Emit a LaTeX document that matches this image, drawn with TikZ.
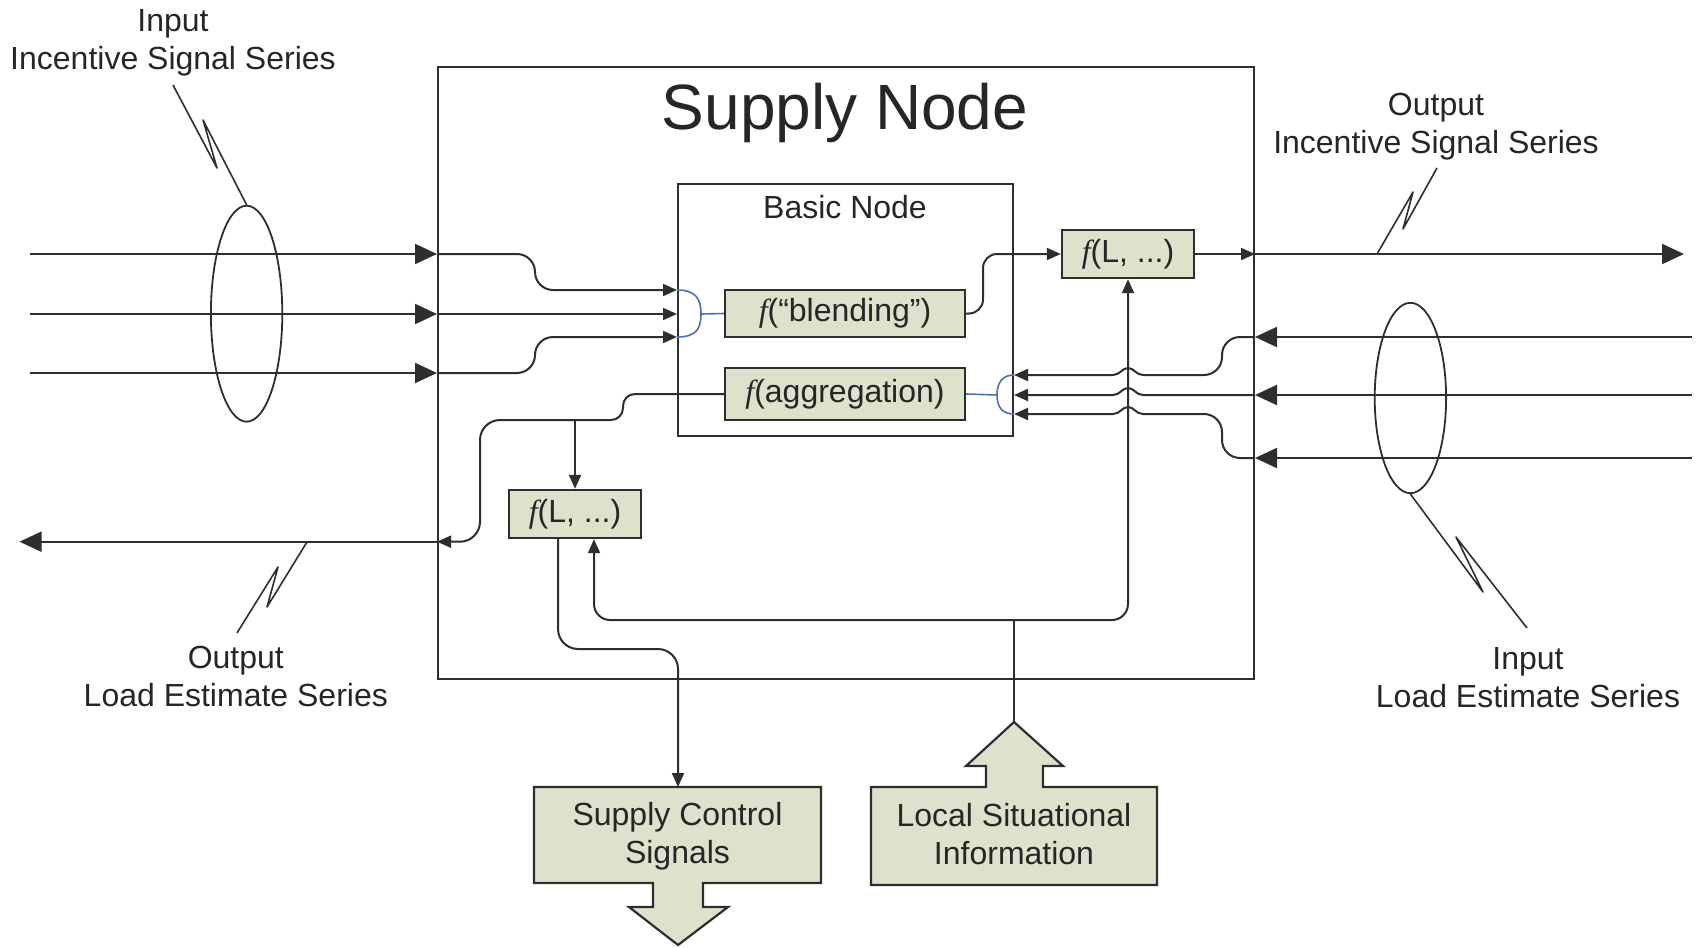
\documentclass[tikz,border=0pt]{standalone}
\usepackage{fontspec}
\setmainfont{Liberation Sans}
\newfontfamily\fnserif{Liberation Serif}
\usetikzlibrary{arrows.meta,shapes.geometric}
\definecolor{boxfill}{HTML}{DDE2CC}
\definecolor{ink}{HTML}{2E2E2E}
\definecolor{bracketblue}{HTML}{4A72B0}
\newcommand{\fn}{{\fnserif\itshape f}}

\begin{document}
\begin{tikzpicture}[x=0.5pt,y=-0.5pt,
  wire/.style={draw=ink, line width=1pt},
  bigarrow/.style={-{Triangle[length=11pt,width=10pt]}},
  smallarrow/.style={-{Triangle[length=7pt,width=6pt]}},
  frame/.style={draw=ink, line width=1pt, inner sep=0pt},
  fbox/.style={draw=ink, fill=boxfill, line width=1.2pt, inner sep=0pt,
    text=black!85, font=\fontsize{16}{19}\selectfont},
  lbl/.style={align=center, inner sep=0pt, text=black!85,
    font=\fontsize{16}{19}\selectfont},
  leader/.style={draw=ink, line width=0.8pt, line join=round},
  bundle/.style={draw=ink, ellipse, line width=0.9pt, inner sep=0pt},
  bracket/.style={draw=bracketblue, line width=0.8pt},
  shapeline/.style={draw=ink, fill=boxfill, line width=1.1pt, line join=miter}]

\useasboundingbox (0,0) rectangle (1696,947);

% ---------- frames ----------
\node[frame, minimum width=408pt, minimum height=306pt] (supply) at (846,373) {};
\node[lbl, font=\fontsize{32}{38}\selectfont] (supplytitle) at (845,113) {Supply Node};
\node[frame, minimum width=167.5pt, minimum height=126pt] (basic) at (845.5,310) {};
\node[lbl] (basictitle) at (845,207) {Basic Node};

% ---------- function boxes ----------
\node[fbox, minimum width=120pt, minimum height=23.5pt] (blend) at (845,313.5) {\fn(“blending”)};
\node[fbox, minimum width=120pt, minimum height=26pt] (aggr) at (845,394) {\fn(aggregation)};
\node[fbox, minimum width=66pt, minimum height=24pt] (fout) at (1128,254) {\fn(L, ...)};
\node[fbox, minimum width=66pt, minimum height=24pt] (fload) at (575,514) {\fn(L, ...)};

% ---------- signal bundles ----------
\node[bundle, minimum width=35.7pt, minimum height=108pt] (bundleL) at (246.6,313.7) {};
\node[bundle, minimum width=35.7pt, minimum height=95.2pt] (bundleR) at (1410.4,398) {};

% ---------- labels ----------
\node[lbl] (labInInc) at (173,42.5) {Input\\Incentive Signal Series};
\node[lbl] (labOutInc) at (1436,126.5) {Output\\Incentive Signal Series};
\node[lbl] (labOutLoad) at (235.8,676) {Output\\Load Estimate Series};
\node[lbl] (labInLoad) at (1528,677.5) {Input\\Load Estimate Series};

% ---------- free ends ----------
\coordinate (srcI1) at (30,254);
\coordinate (srcI2) at (30,314);
\coordinate (srcI3) at (30,373);
\coordinate (srcR1) at (1692,337);
\coordinate (srcR2) at (1692,395);
\coordinate (srcR3) at (1692,458);
\coordinate (sinkO) at (1684,254);
\coordinate (sinkL) at (19.5,541.7);

% ---------- incoming incentive signals ----------
\foreach \s in {srcI1,srcI2,srcI3}
  \draw[wire,bigarrow] (\s) -- (\s -| supply.west);
\draw[wire,smallarrow,rounded corners=9pt] (srcI1 -| supply.west) -- (535,254) -- (535,290) -- (basic.west |- 0,290);
\draw[wire,smallarrow] (srcI2 -| supply.west) -- (basic.west |- 0,314);
\draw[wire,smallarrow,rounded corners=9pt] (srcI3 -| supply.west) -- (535,373) -- (535,337) -- (basic.west |- 0,337);
\draw[bracket] (basic.west |- 0,290) .. controls (695,290) and (701,298) .. (701,314)
  .. controls (701,330) and (695,337) .. (basic.west |- 0,337);
\draw[bracket] (701,314) -- (blend.west);

% ---------- outgoing incentive signal ----------
\draw[wire,smallarrow,rounded corners=7pt] (blend.east) -- (983,313.5) -- (983,254) -- (fout.west);
\draw[wire,smallarrow] (fout.east) -- (fout.east -| supply.east);
\draw[wire,bigarrow] (fout.east -| supply.east) -- (sinkO);

% ---------- incoming load estimates (hopping the vertical feed) ----------
\foreach \s in {srcR1,srcR2,srcR3}
  \draw[wire,bigarrow] (\s) -- (\s -| supply.east);
\draw[wire,smallarrow,rounded corners=9pt] (srcR1 -| supply.east) -- (1222,337) -- (1222,375)
  [sharp corners] -- (1143,375)
  .. controls (1136,375) and (1134,368) .. (1128,368)
  .. controls (1122,368) and (1120,375) .. (1113,375) -- (basic.east |- 0,375);
\draw[wire,smallarrow] (srcR2 -| supply.east) -- (1143,395)
  .. controls (1136,395) and (1134,388) .. (1128,388)
  .. controls (1122,388) and (1120,395) .. (1113,395) -- (basic.east |- 0,395);
\draw[wire,smallarrow,rounded corners=9pt] (srcR3 -| supply.east) -- (1222,458) -- (1222,414)
  [sharp corners] -- (1143,414)
  .. controls (1136,414) and (1134,407) .. (1128,407)
  .. controls (1122,407) and (1120,414) .. (1113,414) -- (basic.east |- 0,414);
\draw[bracket] (basic.east |- 0,375) .. controls (1003,375) and (997,382) .. (997,395)
  .. controls (997,408) and (1003,414) .. (basic.east |- 0,414);
\draw[bracket] (997,395) -- (aggr.east);

% ---------- outgoing load estimate ----------
\draw[wire,smallarrow,rounded corners=6pt] (aggr.west) -- (623,394) -- (623,420)
  [rounded corners=10pt] -- (480,420) -- (480,541.7) -- (supply.west |- 0,541.7);
\draw[wire,smallarrow] (fload.north |- 0,420) -- (fload.north);
\draw[wire,bigarrow] (supply.west |- 0,541.7) -- (sinkL);

% ---------- supply control signals ----------
\draw[shapeline] (534,787) -- (821,787) -- (821,883) -- (703,883) -- (703,907) -- (728,907)
  -- (678,945) -- (629,907) -- (653,907) -- (653,883) -- (534,883) -- cycle;
\node[lbl, minimum width=143.5pt, minimum height=48pt] (sctrl) at (677.5,836) {Supply Control\\Signals};
\draw[wire,smallarrow,rounded corners=10pt] ([xshift=-8.5pt]fload.south) -- (558,649) -- (678,649) -- (678,787);

% ---------- local situational information ----------
\draw[shapeline] (871,787) -- (986,787) -- (986,766) -- (966,766) -- (1014,722) -- (1063,766)
  -- (1043,766) -- (1043,787) -- (1157,787) -- (1157,885) -- (871,885) -- cycle;
\node[lbl, minimum width=143pt, minimum height=49pt] (lsi) at (1014,834.5) {Local Situational\\Information};
\coordinate (lsitip) at (1014,722);
\coordinate (lsijoin) at (1014,620);
\draw[wire] (lsitip) -- (lsijoin);
\draw[wire,smallarrow,rounded corners=8pt] (lsijoin) -- (594,620) -- ([xshift=9.5pt]fload.south);
\draw[wire,smallarrow,rounded corners=8pt] (lsijoin) -- (1128,620) -- (fout.south);

% ---------- bundle leaders ----------
\draw[leader] (173,85) -- (217,168) -- (203,120) -- (bundleL.north);
\draw[leader] (1437,168) -- (1403,229) -- (1413,192) -- (1377,254);
\draw[leader] (307,542) -- (267,607) -- (278,567) -- (237,633);
\draw[leader] (bundleR.south) -- (1483,592) -- (1456,537) -- (1527,628);

\end{tikzpicture}
\end{document}
